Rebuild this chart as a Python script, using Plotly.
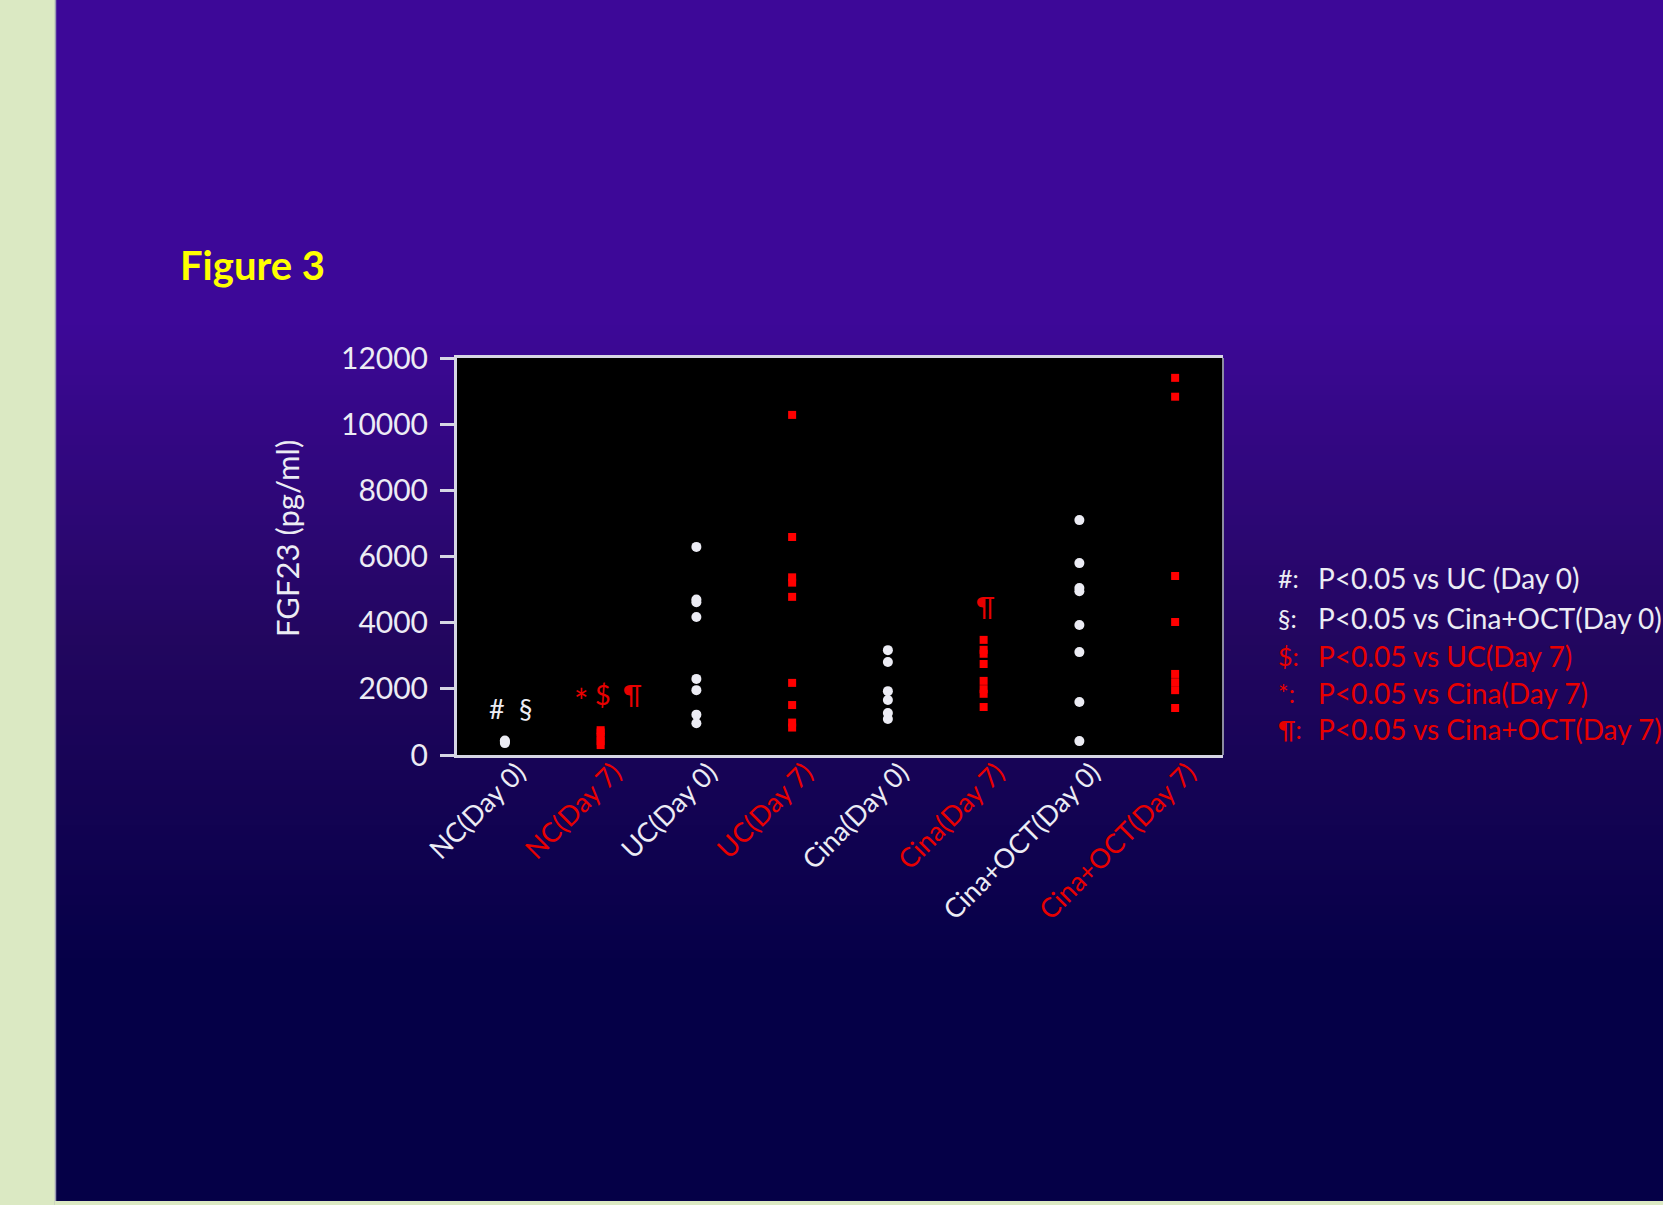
import plotly.graph_objects as go

# ---------------- data ----------------
categories = ["NC(Day 0)", "NC(Day 7)", "UC(Day 0)", "UC(Day 7)",
              "Cina(Day 0)", "Cina(Day 7)", "Cina+OCT(Day 0)", "Cina+OCT(Day 7)"]

nc_day0 = [360, 400, 440]
nc_day7 = [300, 420, 550, 680, 750]
uc_day0 = [6290, 4700, 4620, 4170, 2300, 1960, 1220, 960]
uc_day7 = [10280, 6590, 5370, 5210, 4780, 2180, 1510, 980, 830]
cina_day0 = [3170, 2810, 1930, 1660, 1270, 1090]
cina_day7 = [3480, 3180, 3060, 2750, 2240, 1990, 1850, 1450]
cinaoct_day0 = [7100, 5800, 5050, 4950, 3930, 3110, 1600, 420]
cinaoct_day7 = [11400, 10830, 5410, 4020, 2450, 2200, 1960, 1420]

day0_groups = [("NC(Day 0)", nc_day0), ("UC(Day 0)", uc_day0),
               ("Cina(Day 0)", cina_day0), ("Cina+OCT(Day 0)", cinaoct_day0)]
day7_groups = [("NC(Day 7)", nc_day7), ("UC(Day 7)", uc_day7),
               ("Cina(Day 7)", cina_day7), ("Cina+OCT(Day 7)", cinaoct_day7)]

y_ticks = [0, 2000, 4000, 6000, 8000, 10000, 12000]

# significance marks placed on the chart: (text, category position, value, colour)
mark_texts = ["#", "§", "*", "$", "¶", "¶"]
mark_x = [-0.08, 0.22, 0.79, 1.02, 1.33, 5.02]
mark_y = [1420, 1420, 1640, 1840, 1840, 4500]
mark_is_red = [False, False, True, True, True, True]

legend_symbols = ["#:", "§:", "$:", "*:", "¶:"]
legend_texts = ["P<0.05 vs UC (Day 0)", "P<0.05 vs Cina+OCT(Day 0)",
                "P<0.05 vs UC(Day 7)", "P<0.05 vs Cina(Day 7)",
                "P<0.05 vs Cina+OCT(Day 7)"]
legend_is_red = [False, False, True, True, True]

# ---------------- styling ----------------
W, H = 1663, 1205
L, R, T, B = 457, 1223, 358, 755   # plot area in pixels
WHITE = "#ececf4"
RED = "#ff0000"
TXT_RED = "#e80000"
AXIS = "#d6d6e4"
FONT = "Lato"


def px_x(px):
    return (px - L) / (R - L)


def px_y(py):
    return (B - py) / (B - T)


def hexrgb(h):
    h = h.lstrip("#")
    return tuple(int(h[i:i + 2], 16) for i in (0, 2, 4))


grad_stops = [(0, "#3d0898"), (320, "#3d0898"), (640, "#22065f"),
              (955, "#060048"), (1205, "#050046")]


def grad_color(py):
    for (y0, c0), (y1, c1) in zip(grad_stops[:-1], grad_stops[1:]):
        if y0 <= py <= y1:
            t = 0 if y1 == y0 else (py - y0) / (y1 - y0)
            a, b = hexrgb(c0), hexrgb(c1)
            return "rgb(%d,%d,%d)" % tuple(round(a[i] + (b[i] - a[i]) * t) for i in range(3))
    return grad_stops[-1][1]


shapes = []
# background gradient
shapes.append(dict(type="rect", xref="paper", yref="paper", x0=px_x(0), x1=px_x(W),
                   y0=px_y(0), y1=px_y(322), fillcolor=grad_stops[0][1], line_width=0, layer="below"))
step = 5
for py in range(320, 960, step):
    shapes.append(dict(type="rect", xref="paper", yref="paper", x0=px_x(0), x1=px_x(W),
                       y0=px_y(py), y1=px_y(py + step + 1), fillcolor=grad_color(py + step / 2),
                       line_width=0, layer="below"))
shapes.append(dict(type="rect", xref="paper", yref="paper", x0=px_x(0), x1=px_x(W),
                   y0=px_y(958), y1=px_y(H), fillcolor="#050047", line_width=0, layer="below"))
# left light-green strip
shapes.append(dict(type="rect", xref="paper", yref="paper", x0=px_x(0), x1=px_x(55),
                   y0=px_y(0), y1=px_y(H), fillcolor="#dbe9c3", line_width=0, layer="below"))
shapes.append(dict(type="line", xref="paper", yref="paper", x0=px_x(55.5), x1=px_x(55.5),
                   y0=px_y(0), y1=px_y(H), line=dict(color="#9c9cb4", width=1.5), layer="below"))
shapes.append(dict(type="rect", xref="paper", yref="paper", x0=px_x(55), x1=px_x(W),
                   y0=px_y(1201), y1=px_y(H), fillcolor="#dbe9c3", line_width=0, layer="below"))
# black plot area
shapes.append(dict(type="rect", xref="paper", yref="paper", x0=0, x1=1, y0=0, y1=1,
                   fillcolor="#000000", line_width=0, layer="below"))
# right border of plot
shapes.append(dict(type="line", xref="paper", yref="paper", x0=1, x1=1, y0=0, y1=1,
                   line=dict(color="#8c8ca0", width=2)))

fig = go.Figure()

x0, y0 = [], []
for name, vals in day0_groups:
    x0 += [name] * len(vals)
    y0 += vals
x7, y7 = [], []
for name, vals in day7_groups:
    x7 += [name] * len(vals)
    y7 += vals

fig.add_trace(go.Scatter(x=x0, y=y0, mode="markers", showlegend=False,
                         marker=dict(symbol="circle", size=10, color=WHITE, line_width=0)))
fig.add_trace(go.Scatter(x=x7, y=y7, mode="markers", showlegend=False,
                         marker=dict(symbol="square", size=8, color=RED, line_width=0)))

ticktext = []
for c in categories:
    col = TXT_RED if "Day 7" in c else WHITE
    ticktext.append("<span style='color:%s'>%s</span>" % (col, c))

annotations = []
for t, mx, my, red in zip(mark_texts, mark_x, mark_y, mark_is_red):
    annotations.append(dict(x=mx, y=my, xref="x", yref="y", text=t, showarrow=False,
                            font=dict(family=FONT, size=27 if t != "*" else 34,
                                      color=TXT_RED if red else WHITE)))

annotations.append(dict(x=px_x(178), y=px_y(265), xref="paper", yref="paper", text="<b>Figure 3</b>",
                        showarrow=False, xanchor="left", yanchor="middle",
                        font=dict(family=FONT, size=40, color="#ffff00")))
annotations.append(dict(x=px_x(287), y=px_y(539), xref="paper", yref="paper", text="FGF23 (pg/ml)",
                        showarrow=False, textangle=-90, xanchor="center", yanchor="middle",
                        font=dict(family=FONT, size=31, color=WHITE)))

legend_y = [578, 618, 656, 693, 729]
for i, (s, t, red) in enumerate(zip(legend_symbols, legend_texts, legend_is_red)):
    col = TXT_RED if red else WHITE
    annotations.append(dict(x=px_x(1276), y=px_y(legend_y[i]), xref="paper", yref="paper", text=s,
                            showarrow=False, xanchor="left", yanchor="middle",
                            font=dict(family=FONT, size=25, color=col)))
    annotations.append(dict(x=px_x(1316), y=px_y(legend_y[i]), xref="paper", yref="paper", text=t,
                            showarrow=False, xanchor="left", yanchor="middle",
                            font=dict(family=FONT, size=28, color=col)))

fig.update_layout(
    width=W, height=H, autosize=False,
    margin=dict(l=L, r=W - R, t=T, b=H - B, pad=0),
    paper_bgcolor="#3d0898", plot_bgcolor="#000000",
    font=dict(family=FONT, color=WHITE),
    shapes=shapes, annotations=annotations, showlegend=False,
    xaxis=dict(type="category", categoryorder="array", categoryarray=categories,
               range=[-0.5, 7.5], tickvals=categories, ticktext=ticktext, tickangle=-45,
               showgrid=False, zeroline=False, showline=True, linecolor=AXIS, linewidth=3,
               mirror=True, ticks="", tickfont=dict(family=FONT, size=27),
               ticklabelshift=13, ticklabelstandoff=-12),
    yaxis=dict(range=[0, 12000], tickvals=y_ticks, ticktext=[str(v) for v in y_ticks],
               showgrid=False, zeroline=False, showline=True, linecolor=AXIS, linewidth=3,
               ticks="outside", ticklen=14, tickwidth=3, tickcolor=AXIS,
               tickfont=dict(family=FONT, size=30, color=WHITE), ticklabelstandoff=6),
)

fig.write_html("out.html", include_plotlyjs=True, config={"displayModeBar": False},
               post_script="document.body.style.margin='0';document.body.style.overflow='hidden';")
